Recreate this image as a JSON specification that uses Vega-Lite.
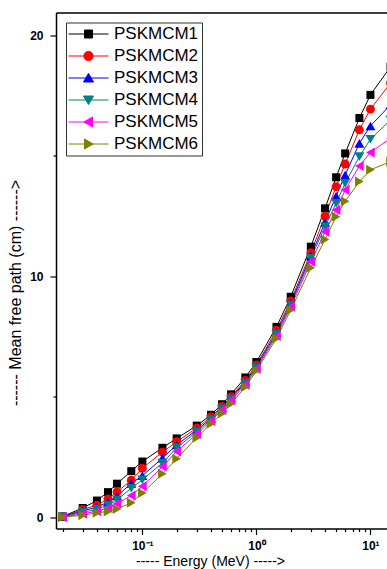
{
  "$schema": "https://vega.github.io/schema/vega-lite/v6.json",
  "autosize": {"type": "none"},
  "width": 331,
  "height": 516,
  "padding": {"left": 56, "top": 12.5, "right": 0, "bottom": 40.5},
  "background": "white",
  "config": {
    "view": {"stroke": null},
    "font": "Liberation Sans",
    "axis": {"domainColor": "black", "domainWidth": 1.5, "tickColor": "black", "tickWidth": 1.2, "labelColor": "black", "titleColor": "black", "labelFont": "Liberation Sans", "titleFont": "Liberation Sans", "grid": false},
    "legend": {"orient": "top-left", "offset": 10, "padding": 3, "strokeColor": "#333", "fillColor": "white", "symbolSize": 64, "symbolStrokeWidth": 1, "symbolOffset": 11, "labelOffset": 17, "labelFontSize": 17, "labelFont": "Liberation Sans", "labelColor": "black", "rowPadding": 4}
  },
  "data": {"values": [
    {"e": 0.02, "PSKMCM1": 0.03, "PSKMCM2": 0.02, "PSKMCM3": 0.02, "PSKMCM4": 0.01, "PSKMCM5": 0.0, "PSKMCM6": 0.0},
    {"e": 0.03, "PSKMCM1": 0.38, "PSKMCM2": 0.32, "PSKMCM3": 0.26, "PSKMCM4": 0.2, "PSKMCM5": 0.14, "PSKMCM6": 0.08},
    {"e": 0.04, "PSKMCM1": 0.69, "PSKMCM2": 0.5, "PSKMCM3": 0.42, "PSKMCM4": 0.33, "PSKMCM5": 0.25, "PSKMCM6": 0.18},
    {"e": 0.05, "PSKMCM1": 1.04, "PSKMCM2": 0.76, "PSKMCM3": 0.63, "PSKMCM4": 0.5, "PSKMCM5": 0.38, "PSKMCM6": 0.24},
    {"e": 0.06, "PSKMCM1": 1.39, "PSKMCM2": 1.05, "PSKMCM3": 0.88, "PSKMCM4": 0.72, "PSKMCM5": 0.56, "PSKMCM6": 0.34},
    {"e": 0.08, "PSKMCM1": 1.91, "PSKMCM2": 1.53, "PSKMCM3": 1.4, "PSKMCM4": 1.2, "PSKMCM5": 0.9, "PSKMCM6": 0.6},
    {"e": 0.1, "PSKMCM1": 2.31, "PSKMCM2": 2.03, "PSKMCM3": 1.72, "PSKMCM4": 1.55, "PSKMCM5": 1.28, "PSKMCM6": 1.0},
    {"e": 0.15, "PSKMCM1": 2.88, "PSKMCM2": 2.7, "PSKMCM3": 2.45, "PSKMCM4": 2.25, "PSKMCM5": 2.1, "PSKMCM6": 1.8},
    {"e": 0.2, "PSKMCM1": 3.27, "PSKMCM2": 3.13, "PSKMCM3": 3.0, "PSKMCM4": 2.88, "PSKMCM5": 2.73, "PSKMCM6": 2.43},
    {"e": 0.3, "PSKMCM1": 3.8, "PSKMCM2": 3.7, "PSKMCM3": 3.62, "PSKMCM4": 3.55, "PSKMCM5": 3.45, "PSKMCM6": 3.3},
    {"e": 0.4, "PSKMCM1": 4.25, "PSKMCM2": 4.17, "PSKMCM3": 4.1, "PSKMCM4": 4.05, "PSKMCM5": 3.98, "PSKMCM6": 3.88},
    {"e": 0.5, "PSKMCM1": 4.69, "PSKMCM2": 4.6, "PSKMCM3": 4.55, "PSKMCM4": 4.5, "PSKMCM5": 4.45, "PSKMCM6": 4.3},
    {"e": 0.6, "PSKMCM1": 5.1, "PSKMCM2": 5.0, "PSKMCM3": 4.95, "PSKMCM4": 4.9, "PSKMCM5": 4.85, "PSKMCM6": 4.71},
    {"e": 0.8, "PSKMCM1": 5.8, "PSKMCM2": 5.68, "PSKMCM3": 5.62, "PSKMCM4": 5.57, "PSKMCM5": 5.5, "PSKMCM6": 5.4},
    {"e": 1, "PSKMCM1": 6.44, "PSKMCM2": 6.32, "PSKMCM3": 6.26, "PSKMCM4": 6.2, "PSKMCM5": 6.15, "PSKMCM6": 6.08},
    {"e": 1.5, "PSKMCM1": 7.9, "PSKMCM2": 7.76, "PSKMCM3": 7.66, "PSKMCM4": 7.6, "PSKMCM5": 7.52, "PSKMCM6": 7.42},
    {"e": 2, "PSKMCM1": 9.15, "PSKMCM2": 8.98, "PSKMCM3": 8.88, "PSKMCM4": 8.8, "PSKMCM5": 8.72, "PSKMCM6": 8.6},
    {"e": 3, "PSKMCM1": 11.23, "PSKMCM2": 10.98, "PSKMCM3": 10.85, "PSKMCM4": 10.75, "PSKMCM5": 10.6, "PSKMCM6": 10.35},
    {"e": 4, "PSKMCM1": 12.82, "PSKMCM2": 12.5, "PSKMCM3": 12.24, "PSKMCM4": 12.06, "PSKMCM5": 11.85, "PSKMCM6": 11.53},
    {"e": 5, "PSKMCM1": 14.11, "PSKMCM2": 13.72, "PSKMCM3": 13.33, "PSKMCM4": 13.03, "PSKMCM5": 12.75, "PSKMCM6": 12.47},
    {"e": 6, "PSKMCM1": 15.1, "PSKMCM2": 14.66, "PSKMCM3": 14.2, "PSKMCM4": 13.86, "PSKMCM5": 13.58, "PSKMCM6": 13.11},
    {"e": 8, "PSKMCM1": 16.57, "PSKMCM2": 16.08, "PSKMCM3": 15.52, "PSKMCM4": 14.97, "PSKMCM5": 14.58, "PSKMCM6": 13.93},
    {"e": 10, "PSKMCM1": 17.53, "PSKMCM2": 16.94, "PSKMCM3": 16.24, "PSKMCM4": 15.69, "PSKMCM5": 15.14, "PSKMCM6": 14.42},
    {"e": 15, "PSKMCM1": 18.7, "PSKMCM2": 18.02, "PSKMCM3": 17.12, "PSKMCM4": 16.49, "PSKMCM5": 15.73, "PSKMCM6": 14.76}
  ]},
  "transform": [{"fold": ["PSKMCM1", "PSKMCM2", "PSKMCM3", "PSKMCM4", "PSKMCM5", "PSKMCM6"], "as": ["key", "v"]}],
  "encoding": {
    "x": {"field": "e", "type": "quantitative", "scale": {"type": "log", "domain": [0.0175, 13.97], "nice": false}, "axis": null},
    "y": {"field": "v", "type": "quantitative", "scale": {"domain": [-0.47, 20.95], "nice": false, "zero": false},
      "axis": {"orient": "left", "values": [0, 5, 10, 15, 20], "labelExpr": "datum.value % 10 === 0 ? datum.label : ''",
        "tickSize": {"condition": {"test": "datum.value % 10 === 0", "value": 6}, "value": 3},
        "labelFontSize": 12, "labelFontWeight": "bold", "labelPadding": 7,
        "title": "------ Mean free path (cm) ------>", "titleFontSize": 16, "titleFontWeight": "normal", "titlePadding": 6, "titleY": 280}}
  },
  "layer": [
    {"mark": {"type": "line", "strokeWidth": 1, "clip": false},
     "encoding": {
       "color": {"field": "key", "type": "nominal", "scale": {"range": ["#000000", "#FF0000", "#0000FF", "#008080", "#FF00FF", "#808000"]}, "legend": null},
       "x": {"field": "e", "type": "quantitative",
         "axis": {"orient": "bottom", "values": [0.02, 0.03, 0.04, 0.05, 0.06, 0.07, 0.08, 0.09, 0.1, 0.2, 0.3, 0.4, 0.5, 0.6, 0.7, 0.8, 0.9, 1, 2, 3, 4, 5, 6, 7, 8, 9, 10],
           "labelExpr": "datum.value == 0.1 ? '10⁻¹' : datum.value == 1 ? '10⁰' : datum.value == 10 ? '10¹' : ''",
           "tickSize": {"condition": {"test": "datum.value == 0.1 || datum.value == 1 || datum.value == 10", "value": 6}, "value": 3},
           "labelOverlap": false, "labelFlush": false,
           "labelFontSize": 12, "labelFontWeight": "bold", "labelPadding": 6,
           "title": "----- Energy (MeV) ----->", "titleFontSize": 14, "titleFontWeight": "normal", "titlePadding": 3, "titleX": 154}}}},
    {"mark": {"type": "point", "filled": true, "opacity": 1, "clip": false},
     "encoding": {
       "color": {"field": "key", "type": "nominal", "legend": null},
       "shape": {"condition": [
         {"test": "datum.key === 'PSKMCM1'", "value": "square"},
         {"test": "datum.key === 'PSKMCM2'", "value": "circle"},
         {"test": "datum.key === 'PSKMCM3'", "value": "triangle-up"},
         {"test": "datum.key === 'PSKMCM4'", "value": "triangle-down"},
         {"test": "datum.key === 'PSKMCM5'", "value": "triangle-left"}], "value": "triangle-right"},
       "size": {"condition": [
         {"test": "datum.key === 'PSKMCM1'", "value": 64},
         {"test": "datum.key === 'PSKMCM2'", "value": 80}], "value": 100}}},
    {"transform": [{"filter": "false"}],
     "mark": {"type": "point", "filled": true, "opacity": 1},
     "encoding": {
       "x": {"field": "e", "type": "quantitative", "axis": {"orient": "top", "labels": false, "ticks": false, "title": null, "domain": true}},
       "fill": {"field": "key", "type": "nominal",
         "scale": {"domain": ["PSKMCM1", "PSKMCM2", "PSKMCM3", "PSKMCM4", "PSKMCM5", "PSKMCM6"], "range": ["#000000", "#FF0000", "#0000FF", "#008080", "#FF00FF", "#808000"]},
         "legend": {"title": null}},
       "stroke": {"field": "key", "type": "nominal",
         "scale": {"domain": ["PSKMCM1", "PSKMCM2", "PSKMCM3", "PSKMCM4", "PSKMCM5", "PSKMCM6"], "range": ["#000000", "#FF0000", "#0000FF", "#008080", "#FF00FF", "#808000"]},
         "legend": {"title": null}},
       "shape": {"field": "key", "type": "nominal",
         "scale": {"domain": ["PSKMCM1", "PSKMCM2", "PSKMCM3", "PSKMCM4", "PSKMCM5", "PSKMCM6"],
           "range": ["M-5,0H5M-1,-1H1V1H-1Z",
                     "M-5,0H5M-1.15,0A1.15,1.15,0,1,0,1.15,0A1.15,1.15,0,1,0,-1.15,0Z",
                     "M-5,0H5M0,-1.15L1.25,1L-1.25,1Z",
                     "M-5,0H5M0,1.15L1.25,-1L-1.25,-1Z",
                     "M-5,0H5M-1.15,0L1,-1.25L1,1.25Z",
                     "M-5,0H5M1.15,0L-1,-1.25L-1,1.25Z"]},
         "legend": {"title": null}}}}
  ]
}
